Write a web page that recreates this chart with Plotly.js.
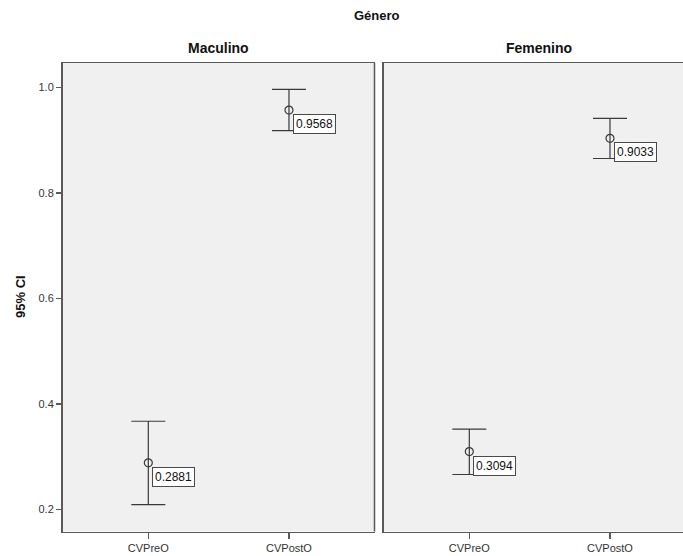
<!DOCTYPE html>
<html>
<head>
<meta charset="utf-8">
<script src="https://cdn.plot.ly/plotly-3.0.1.min.js"></script>
<style>html,body{margin:0;padding:0;background:#fff;}#chart{width:683px;height:556px;}</style>
</head>
<body>
<div id="chart"></div>
<script>
// ---- data ----
const categories = ['CVPreO', 'CVPostO'];
const panelTitles = ['Maculino', 'Femenino'];
const mainTitle = 'Género';
const yTitle = '95% CI';
const yTicks = [0.2, 0.4, 0.6, 0.8, 1.0];

const meanMasc  = [0.2881, 0.9568];
const lowerMasc = [0.209, 0.918];
const upperMasc = [0.367, 0.996];

const meanFem  = [0.3094, 0.9033];
const lowerFem = [0.266, 0.865];
const upperFem = [0.352, 0.941];

// ---- build ----
const W = 683, H = 556;
const xIdx = categories.map((c, i) => i);
const lineCol = '#3a3a3a';
const frameCol = '#5a5a5a';
const fontFam = 'Liberation Sans, Arial, sans-serif';

function trace(means, lo, hi, xa, ya) {
  return {
    type: 'scatter', mode: 'markers',
    x: xIdx, y: means, xaxis: xa, yaxis: ya,
    marker: {symbol: 'circle-open', size: 8, color: lineCol, line: {width: 1.2, color: lineCol}},
    error_y: {
      type: 'data', symmetric: false,
      array: means.map((m, i) => hi[i] - m),
      arrayminus: means.map((m, i) => m - lo[i]),
      color: lineCol, thickness: 1.2, width: 17
    },
    hoverinfo: 'skip', showlegend: false
  };
}

const data = [
  trace(meanMasc, lowerMasc, upperMasc, 'x', 'y'),
  trace(meanFem, lowerFem, upperFem, 'x2', 'y2')
];

const px = v => v / W;
const py = v => 1 - v / H;

const yRange = [0.158, 1.046];
const baseX = {
  tickmode: 'array', tickvals: xIdx, ticktext: categories,
  ticks: 'outside', ticklen: 6, tickwidth: 1.5, tickcolor: frameCol,
  showgrid: false, zeroline: false,
  showline: true, mirror: true, linecolor: frameCol, linewidth: 1.5,
  tickfont: {family: fontFam, size: 11, color: '#333'},
  fixedrange: true
};

const annotations = [];
function valueLabels(means, xr, yr) {
  means.forEach((m, i) => annotations.push({
    x: xIdx[i], y: m, xref: xr, yref: yr,
    text: m.toFixed(4), showarrow: false,
    xanchor: 'left', yanchor: 'top', xshift: 4, yshift: -4,
    bgcolor: '#ffffff', bordercolor: '#4a4a4a', borderwidth: 1, borderpad: 2,
    font: {family: fontFam, size: 12, color: '#111'}
  }));
}
valueLabels(meanMasc, 'x', 'y');
valueLabels(meanFem, 'x2', 'y2');

annotations.push({
  text: '<b>' + mainTitle + '</b>', xref: 'paper', yref: 'paper',
  x: px(377), y: py(15), showarrow: false, xanchor: 'center', yanchor: 'middle',
  font: {family: fontFam, size: 13, color: '#111'}
});
annotations.push({
  text: '<b>' + panelTitles[0] + '</b>', xref: 'paper', yref: 'paper',
  x: px(218.5), y: py(48), showarrow: false, xanchor: 'center', yanchor: 'middle',
  font: {family: fontFam, size: 14, color: '#111'}
});
annotations.push({
  text: '<b>' + panelTitles[1] + '</b>', xref: 'paper', yref: 'paper',
  x: px(539), y: py(48), showarrow: false, xanchor: 'center', yanchor: 'middle',
  font: {family: fontFam, size: 14, color: '#111'}
});
annotations.push({
  text: '<b>' + yTitle + '</b>', xref: 'paper', yref: 'paper',
  x: px(20), y: py(297), showarrow: false, xanchor: 'center', yanchor: 'middle',
  textangle: -90, font: {family: fontFam, size: 13, color: '#111'}
});

const layout = {
  width: W, height: H,
  margin: {l: 0, r: 0, t: 0, b: 0, pad: 0},
  paper_bgcolor: '#ffffff', plot_bgcolor: '#f0f0f0',
  showlegend: false,
  xaxis: Object.assign({}, baseX, {domain: [px(62.5), px(374.5)], range: [-0.61, 1.608], anchor: 'y'}),
  xaxis2: Object.assign({}, baseX, {domain: [px(383.5), 1], range: [-0.61, 1.519], anchor: 'y2'}),
  yaxis: {
    domain: [py(531.5), py(63)], range: yRange, anchor: 'x',
    tickmode: 'array', tickvals: yTicks, ticktext: yTicks.map(v => v.toFixed(1)),
    ticks: 'outside', ticklen: 5, tickwidth: 1.5, tickcolor: frameCol,
    showgrid: false, zeroline: false,
    showline: true, mirror: false, linecolor: frameCol, linewidth: 1.5,
    tickfont: {family: fontFam, size: 11, color: '#333'}, fixedrange: true
  },
  yaxis2: {
    domain: [py(531.5), py(63)], range: yRange, anchor: 'x2',
    showticklabels: false, ticks: '', showgrid: false, zeroline: false,
    showline: true, mirror: false, linecolor: frameCol, linewidth: 1.5, fixedrange: true
  },
  shapes: [
    {type: 'line', xref: 'x domain', yref: 'y domain', x0: 1, x1: 1, y0: 0, y1: 1,
     line: {color: frameCol, width: 1.5}}
  ],
  annotations: annotations
};

Plotly.newPlot('chart', data, layout, {displayModeBar: false, staticPlot: true});
</script>
</body>
</html>
